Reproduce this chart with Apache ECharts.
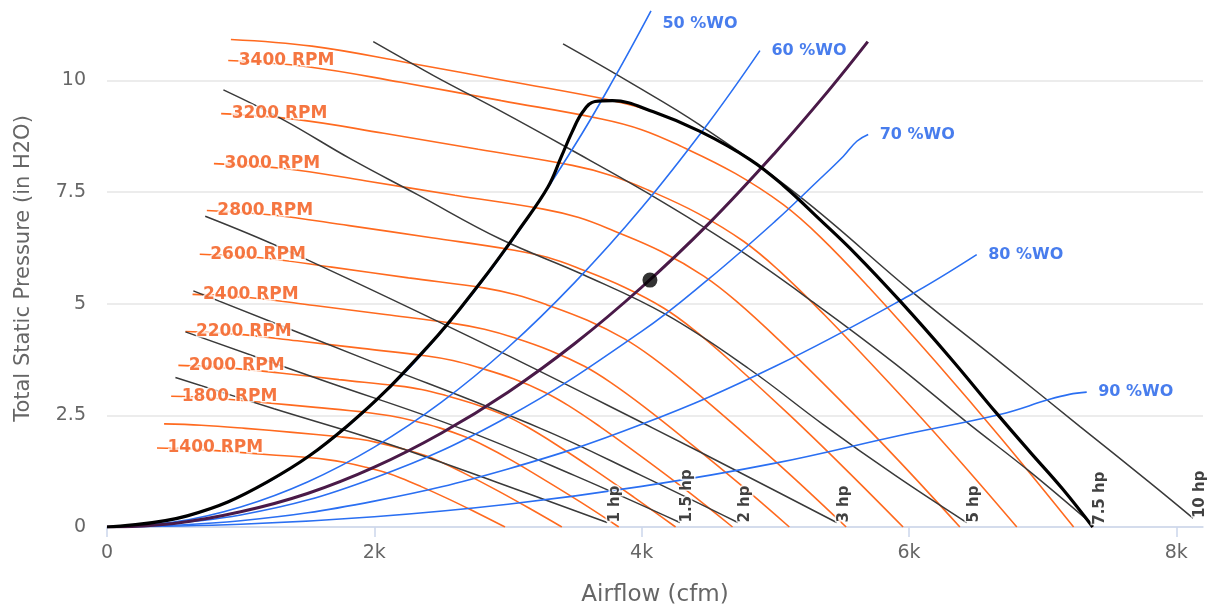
<!DOCTYPE html>
<html>
<head>
<meta charset="utf-8">
<script src="https://cdn.jsdelivr.net/npm/echarts@6/dist/echarts.min.js"></script>
<style>html,body{margin:0;padding:0;background:#fff}#c{width:1217px;height:612px}</style>
</head>
<body>
<div id="c"></div>
<script>
// ---- axis ticks ----
const xTicks = [0, 2000, 4000, 6000, 8000];
const yTicks = [0, 2.5, 5, 7.5, 10];

// ---- fan RPM curves [cfm, in H2O] ----
const rpmTop  = [[927,10.92],[1533,10.77],[2249,10.40],[3015,9.98],[3782,9.55],[4088,9.30],[4437,8.86],[4811,8.23],[5060,7.65],[5336,6.88],[5600,6.12],[5931,5.07],[6300,3.82],[6655,2.55],[6900,1.70],[7150,0.85],[7375,0]];
const rpm3400 = [[907,10.45],[1500,10.31],[2200,9.96],[2950,9.55],[3700,9.14],[4000,8.90],[4300,8.52],[4700,7.92],[5060,7.22],[5336,6.50],[5700,5.37],[6200,3.70],[6700,1.95],[7232,0]];
const rpm3200 = [[854,9.26],[1412,9.13],[2071,8.82],[2777,8.46],[3482,8.10],[3765,7.88],[4047,7.55],[4424,7.02],[4762,6.40],[5022,5.76],[5365,4.76],[5835,3.28],[6306,1.73],[6807,0]];
const rpm3000 = [[800,8.14],[1324,8.03],[1941,7.75],[2603,7.43],[3265,7.12],[3530,6.93],[3794,6.63],[4147,6.17],[4465,5.62],[4708,5.06],[5030,4.18],[5471,2.88],[5912,1.52],[6381,0]];
const rpm2800 = [[747,7.09],[1235,6.99],[1812,6.75],[2429,6.48],[3047,6.20],[3294,6.04],[3541,5.78],[3871,5.37],[4167,4.90],[4394,4.41],[4694,3.64],[5106,2.51],[5517,1.32],[5956,0]];
const rpm2600 = [[694,6.11],[1147,6.03],[1682,5.82],[2256,5.58],[2829,5.35],[3059,5.20],[3288,4.98],[3594,4.63],[3869,4.22],[4080,3.80],[4359,3.14],[4741,2.16],[5123,1.14],[5530,0]];
const rpm2400 = [[640,5.21],[1059,5.14],[1553,4.96],[2082,4.76],[2612,4.55],[2824,4.43],[3035,4.25],[3318,3.95],[3572,3.60],[3767,3.24],[4024,2.68],[4377,1.84],[4730,0.97],[5105,0]];
const rpm2200 = [[587,4.38],[971,4.32],[1424,4.17],[1909,4.00],[2394,3.83],[2588,3.73],[2783,3.57],[3041,3.32],[3274,3.02],[3453,2.72],[3688,2.25],[4012,1.55],[4336,0.82],[4680,0]];
const rpm2000 = [[534,3.62],[882,3.57],[1294,3.45],[1735,3.30],[2176,3.16],[2353,3.08],[2529,2.95],[2765,2.74],[2976,2.50],[3139,2.25],[3353,1.86],[3647,1.28],[3941,0.67],[4254,0]];
const rpm1800 = [[480,2.93],[794,2.89],[1165,2.79],[1562,2.68],[1959,2.56],[2118,2.49],[2276,2.39],[2488,2.22],[2679,2.02],[2825,1.82],[3018,1.51],[3282,1.04],[3547,0.55],[3829,0]];
const rpm1600 = [[427,2.31],[706,2.28],[1035,2.21],[1388,2.12],[1741,2.02],[1882,1.97],[2024,1.89],[2212,1.75],[2381,1.60],[2511,1.44],[2682,1.19],[2918,0.82],[3153,0.43],[3403,0]];
const rpm1400 = [[374,1.77],[618,1.75],[906,1.69],[1215,1.62],[1524,1.55],[1647,1.51],[1771,1.45],[1935,1.34],[2084,1.22],[2197,1.10],[2347,0.91],[2553,0.63],[2759,0.33],[2978,0]];
const rpmCurves = [rpmTop, rpm3400, rpm3200, rpm3000, rpm2800, rpm2600, rpm2400, rpm2200, rpm2000, rpm1800, rpm1600, rpm1400];
const rpmLabels = ['', '3400 RPM', '3200 RPM', '3000 RPM', '2800 RPM', '2600 RPM', '2400 RPM', '2200 RPM', '2000 RPM', '1800 RPM', '', '1400 RPM'];

// ---- horsepower lines ----
const hp1   = [[512,3.35],[1250,2.65],[2043,1.92],[2900,1.02],[3742,0.1]];
const hp1_5 = [[587,4.37],[1600,3.30],[2645,2.21],[3500,1.15],[4286,0.1]];
const hp2   = [[646,5.29],[1900,3.80],[3243,2.21],[4000,1.15],[4720,0.1]];
const hp3   = [[735,6.96],[1320,6.23],[2700,4.28],[4088,2.21],[4800,1.12],[5459,0.1]];
const hp5   = [[871,9.79],[1320,9.12],[1820,8.25],[2320,7.45],[2943,6.45],[3564,5.65],[4187,4.75],[4800,3.55],[5356,2.30],[5900,1.15],[6432,0.1]];
const hp7_5 = [[1992,10.87],[2450,10.10],[2943,9.32],[3441,8.50],[4062,7.45],[4683,6.30],[5300,5.00],[5900,3.65],[6432,2.35],[6900,1.25],[7375,0.05]];
const hp10  = [[3412,10.82],[3900,9.98],[4437,9.00],[5184,7.40],[6030,5.25],[6700,3.65],[7280,2.25],[7800,1.00],[8125,0.2]];
const hpCurves = [hp1, hp1_5, hp2, hp3, hp5, hp7_5, hp10];
const hpLabels = ['1 hp', '1.5 hp', '2 hp', '3 hp', '5 hp', '7.5 hp', '10 hp'];

// ---- % wide open lines ----
const wo50 = [[0,0],[500,0.17],[1000,0.70],[1500,1.57],[2000,2.79],[2500,4.36],[3000,6.28],[3500,8.55],[3800,10.08],[4070,11.56]];
const wo60 = [[0,0],[500,0.11],[1000,0.45],[1500,1.01],[2000,1.79],[2500,2.79],[3000,4.02],[3500,5.48],[4000,7.15],[4500,9.05],[4885,10.67]];
const wo70 = [[0,0],[1000,0.27],[2000,1.10],[3000,2.47],[4000,4.38],[4500,5.55],[5000,6.85],[5300,7.70],[5508,8.30],[5610,8.64],[5695,8.79]];
const wo80 = [[0,0],[1000,0.14],[2000,0.58],[3000,1.30],[4000,2.30],[5000,3.60],[6000,5.18],[6507,6.10]];
const wo90 = [[0,0],[1000,0.06],[2000,0.23],[3000,0.51],[4000,0.91],[5000,1.43],[5931,2.05],[6679,2.52],[7053,2.86],[7200,2.97],[7330,3.02]];
const woCurves = [wo50, wo60, wo70, wo80, wo90];
const woLabels = ['50 %WO', '60 %WO', '70 %WO', '80 %WO', '90 %WO'];

// ---- system curve, fan envelope, operating point ----
const systemCurve = [[0,0],[500,0.08],[1000,0.34],[1500,0.75],[2000,1.34],[2500,2.10],[3000,3.02],[3500,4.11],[4000,5.37],[4500,6.79],[5000,8.39],[5400,9.78],[5692,10.87]];
const fanEnvelope = [[0,0],[600,0.25],[1200,1.01],[1800,2.27],[2400,4.04],[2800,5.50],[3100,6.73],[3300,7.62],[3400,8.30],[3480,8.85],[3560,9.30],[3650,9.53],[3782,9.55],[4088,9.30],[4437,8.86],[4811,8.23],[5060,7.65],[5336,6.88],[5600,6.12],[5931,5.07],[6300,3.82],[6655,2.55],[6900,1.70],[7150,0.85],[7375,0]];
const operatingPoint = [4062, 5.53];

const FONT = 'DejaVu Sans';
const ORANGE = '#ff6a1f';
const ORANGE_TXT = '#f25412';
const BLUE = '#2a6ff2';
const BLUE_TXT = '#1a5ce8';
const GRAY = '#3a3a3a';

function lineSeries(data, color, width, z) {
  return { type: 'line', data: data, showSymbol: false, symbol: 'none', smooth: 0.4,
    lineStyle: { color: color, width: width }, z: z, silent: true };
}

const series = [];
rpmCurves.forEach(c => series.push(lineSeries(c, ORANGE, 1.6, 2)));
hpCurves.forEach(c => series.push(lineSeries(c, GRAY, 1.5, 3)));
woCurves.forEach(c => series.push(lineSeries(c, BLUE, 1.6, 4)));
series.push(lineSeries(systemCurve, '#4a1a48', 3, 5));
series.push(lineSeries(fanEnvelope, '#000', 3.2, 6));
series.push({
  type: 'scatter', data: [operatingPoint], symbol: 'circle', symbolSize: 15,
  itemStyle: { color: '#000' }, z: 7, silent: true
});
// RPM labels at curve starts
series.push({
  type: 'scatter', symbolSize: 1, itemStyle: { color: 'rgba(0,0,0,0)' }, z: 20, silent: true,
  data: rpmCurves.map((c, i) => ({ value: c[0], name: rpmLabels[i] })).filter(d => d.name),
  label: {
    show: true, position: 'right', distance: 10, formatter: p => p.name,
    color: ORANGE_TXT, fontFamily: FONT, fontWeight: 'bold', fontSize: 17,
    textBorderColor: '#fff', textBorderWidth: 3
  }
});
// %WO labels at curve ends
series.push({
  type: 'scatter', symbolSize: 1, itemStyle: { color: 'rgba(0,0,0,0)' }, z: 20, silent: true,
  data: woCurves.map((c, i) => ({ value: c[c.length - 1], name: woLabels[i],
    label: { offset: i === 0 ? [0, 13] : [0, 0] } })),
  label: {
    show: true, position: 'right', distance: 11, formatter: p => p.name,
    color: BLUE_TXT, fontFamily: FONT, fontWeight: 'bold', fontSize: 16,
    textBorderColor: '#fff', textBorderWidth: 2
  }
});
// hp labels at line ends, rotated
series.push({
  type: 'scatter', symbolSize: 1, itemStyle: { color: 'rgba(0,0,0,0)' }, z: 20, silent: true,
  data: hpCurves.map((c, i) => ({ value: c[c.length - 1], name: hpLabels[i] })),
  label: {
    show: true, position: 'inside', rotate: 90, align: 'left', verticalAlign: 'top',
    formatter: p => p.name, color: '#111', fontFamily: FONT, fontWeight: 'bold', fontSize: 15,
    textBorderColor: '#fff', textBorderWidth: 3
  }
});

const chart = echarts.init(document.getElementById('c'), null, { renderer: 'canvas' });
chart.setOption({
  animation: false,
  backgroundColor: '#fff',
  grid: { left: 107, right: 14, top: 10, bottom: 83, containLabel: false },
  xAxis: {
    type: 'value', min: 0, max: 8200, interval: 2000,
    name: 'Airflow (cfm)', nameLocation: 'middle', nameGap: 57,
    nameTextStyle: { color: '#666', fontSize: 23, fontFamily: FONT },
    axisLine: { show: true, lineStyle: { color: '#ccd6eb', width: 1.5 } },
    axisTick: { show: true, length: 10, lineStyle: { color: '#ccd6eb', width: 1.5 }, customValues: xTicks },
    axisLabel: { color: '#666', fontSize: 19, fontFamily: FONT, margin: 17,
      formatter: v => xTicks.includes(v) ? (v === 0 ? '0' : (v / 1000) + 'k') : '' },
    splitLine: { show: false }
  },
  yAxis: {
    type: 'value', min: 0, max: 11.58, interval: 2.5,
    name: 'Total Static Pressure (in H2O)', nameLocation: 'middle', nameGap: 73, nameRotate: 90,
    nameTextStyle: { color: '#666', fontSize: 21, fontFamily: FONT },
    axisLine: { show: false }, axisTick: { show: false },
    axisLabel: { color: '#666', fontSize: 19, fontFamily: FONT, margin: 21,
      formatter: v => yTicks.includes(v) ? String(v) : '' },
    splitLine: { show: true, showMaxLine: false, lineStyle: { color: '#e6e6e6', width: 1.5 } }
  },
  series: series
});
</script>
</body>
</html>
